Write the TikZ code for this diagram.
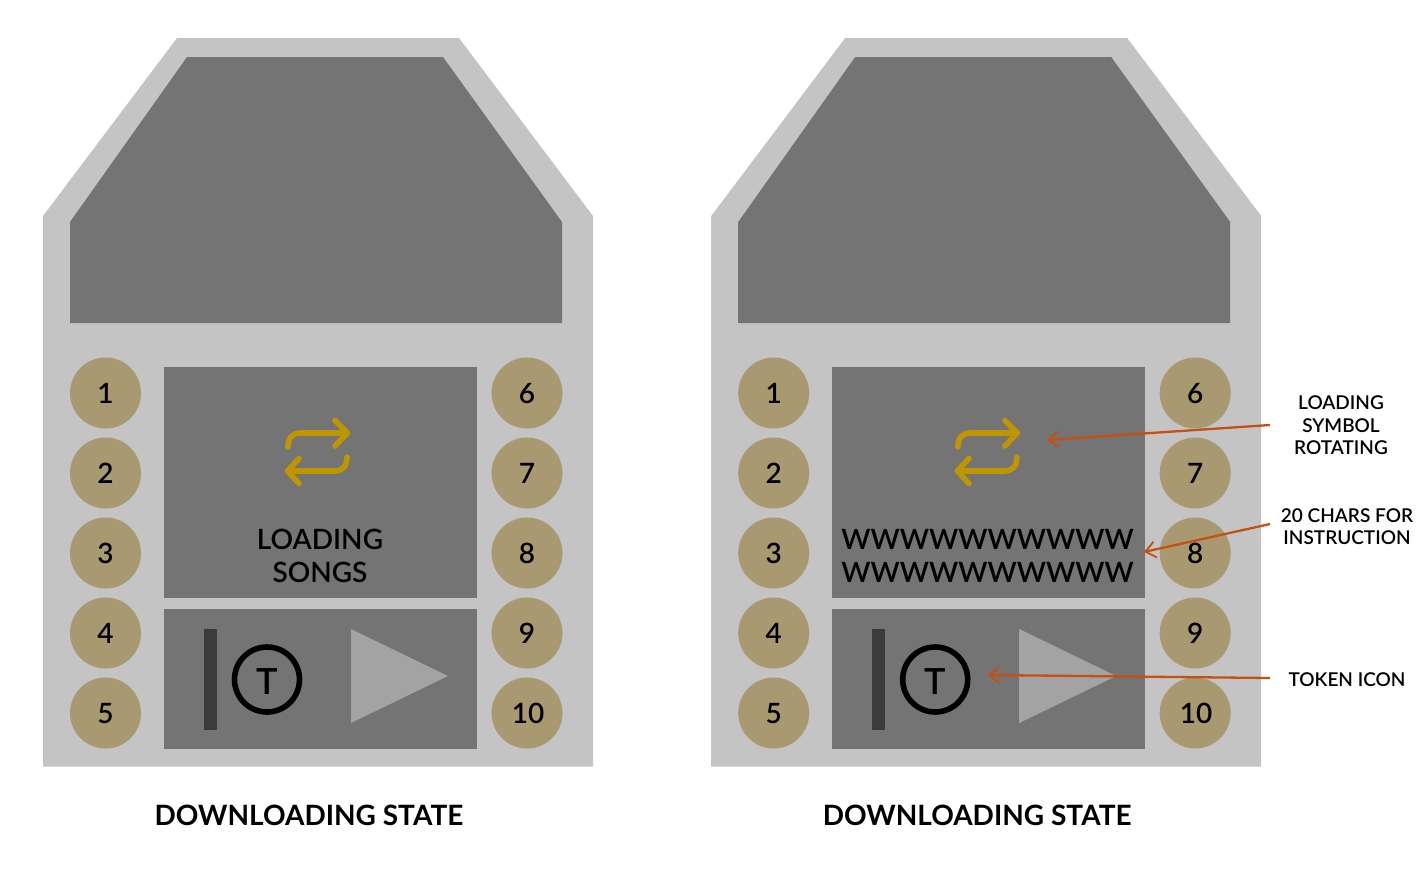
\documentclass[tikz,border=0pt]{standalone}
\usepackage{fontspec}
\setmainfont{Lato Semibold}[BoldFont=Lato Bold]
\usetikzlibrary{arrows.meta}
\definecolor{outerc}{HTML}{C4C4C4}
\definecolor{innerc}{HTML}{747474}
\definecolor{tanc}{HTML}{A89971}
\definecolor{goldc}{HTML}{BF9500}
\definecolor{barc}{HTML}{3B3B3B}
\definecolor{triac}{HTML}{A3A3A3}
\definecolor{callc}{HTML}{C5500F}
\newcommand{\pxfont}[2]{\fontsize{#1}{#2}\selectfont}
\tikzset{
  body/.style={fill=outerc,draw=none},
  screen/.style={fill=innerc,draw=none},
  keycircle/.style={circle,fill=tanc,draw=none,minimum size=71pt,inner sep=0pt,text=black,text height=20pt,text depth=0pt,font=\pxfont{28}{30}},
  icon/.style={draw=goldc,line width=5.6pt,line cap=round,line join=round},
  msg/.style={inner sep=0pt,align=center,text=black,font=\pxfont{28}{33}},
  title/.style={inner sep=0pt,text=black,font=\pxfont{28}{32}\bfseries},
  callout/.style={inner sep=0pt,align=center,text=black,font=\pxfont{19}{22.5}},
  leader/.style={draw=callc,line width=2.3pt,-{Straight Barb[length=10pt,width=16pt,line width=1.8pt]}},
}
\newcommand{\panel}[3]{%
  \begin{scope}[xshift=#2pt]
    \path[body] (43,766.5) -- (43,216) -- (177,38) -- (459,38) -- (593,216) -- (593,766.5) -- cycle;
    \path[screen] (70,323) -- (70,222) -- (187,57) -- (443,57) -- (562,222) -- (562,323) -- cycle;
    \path[screen] (164,367) rectangle (477,598);
    \path[screen] (164,609) rectangle (477,748.5);
    \foreach \n/\yy in {1/393,2/473,3/553,4/633,5/713}
      \node[keycircle] (#1k\n) at (105.5,\yy) {\n};
    \foreach \n/\yy in {6/393,7/473,8/553,9/633}
      \node[keycircle] (#1k\n) at (527,\yy) {\n};
    \node[keycircle] (#1k10) at (527,713) {\makebox[0pt]{\hspace{2pt}10}};
    \begin{scope}[xshift=#3pt]
      \draw[icon] (288,447) .. controls (288,438) and (292,433) .. (301,433) -- (347,433);
      \draw[icon] (335,420.5) -- (347.5,433) -- (335,446);
      \draw[icon] (347,457) .. controls (347,466) and (343,471) .. (334,471) -- (288,471);
      \draw[icon] (299,458.5) -- (287.5,471) -- (299,483.5);
    \end{scope}
    \path[fill=barc] (203.5,629) rectangle (216.5,730);
    \node[circle,draw=black,line width=5.6pt,minimum size=65pt,inner sep=0pt,text=black,text height=29.4pt,text depth=0pt,font=\pxfont{36}{38}] (#1tok) at (267,679.5) {T};
    \path[fill=triac] (351,629) -- (351,723) -- (448,676) -- cycle;
    \node[title] (#1ttl) at (309,815) {DOWNLOADING STATE};
  \end{scope}}
\begin{document}
\begin{tikzpicture}[x=1pt,y=-1pt]
  \useasboundingbox (0,0) rectangle (1427,871);
  \path[fill=white] (0,0) rectangle (1427,871);
  \panel{a}{0}{0}
  \panel{b}{668.2}{1.7}
  \node[msg] (amsg) at (320,556) {LOADING\\SONGS};
  \node[msg] (bmsg) at (987.5,556) {WWWWWWWWWW\\WWWWWWWWWW};
  \node[callout] (c1) at (1341,425.5) {LOADING\\SYMBOL\\ROTATING};
  \node[callout] (c2) at (1347,526.5) {20 CHARS FOR\\INSTRUCTION};
  \node[callout] (c3) at (1347,680) {TOKEN ICON};
  \coordinate (s1) at (1270,425);
  \coordinate (s2) at (1270,524);
  \coordinate (s3) at (1270,678);
  \coordinate (t1) at (1047,440);
  \coordinate (t2) at (1144,552);
  \coordinate (t3) at (988,675);
  \draw[leader] (s1) -- (t1);
  \draw[leader] (s2) -- (t2);
  \draw[leader] (s3) -- (t3);
\end{tikzpicture}
\end{document}
